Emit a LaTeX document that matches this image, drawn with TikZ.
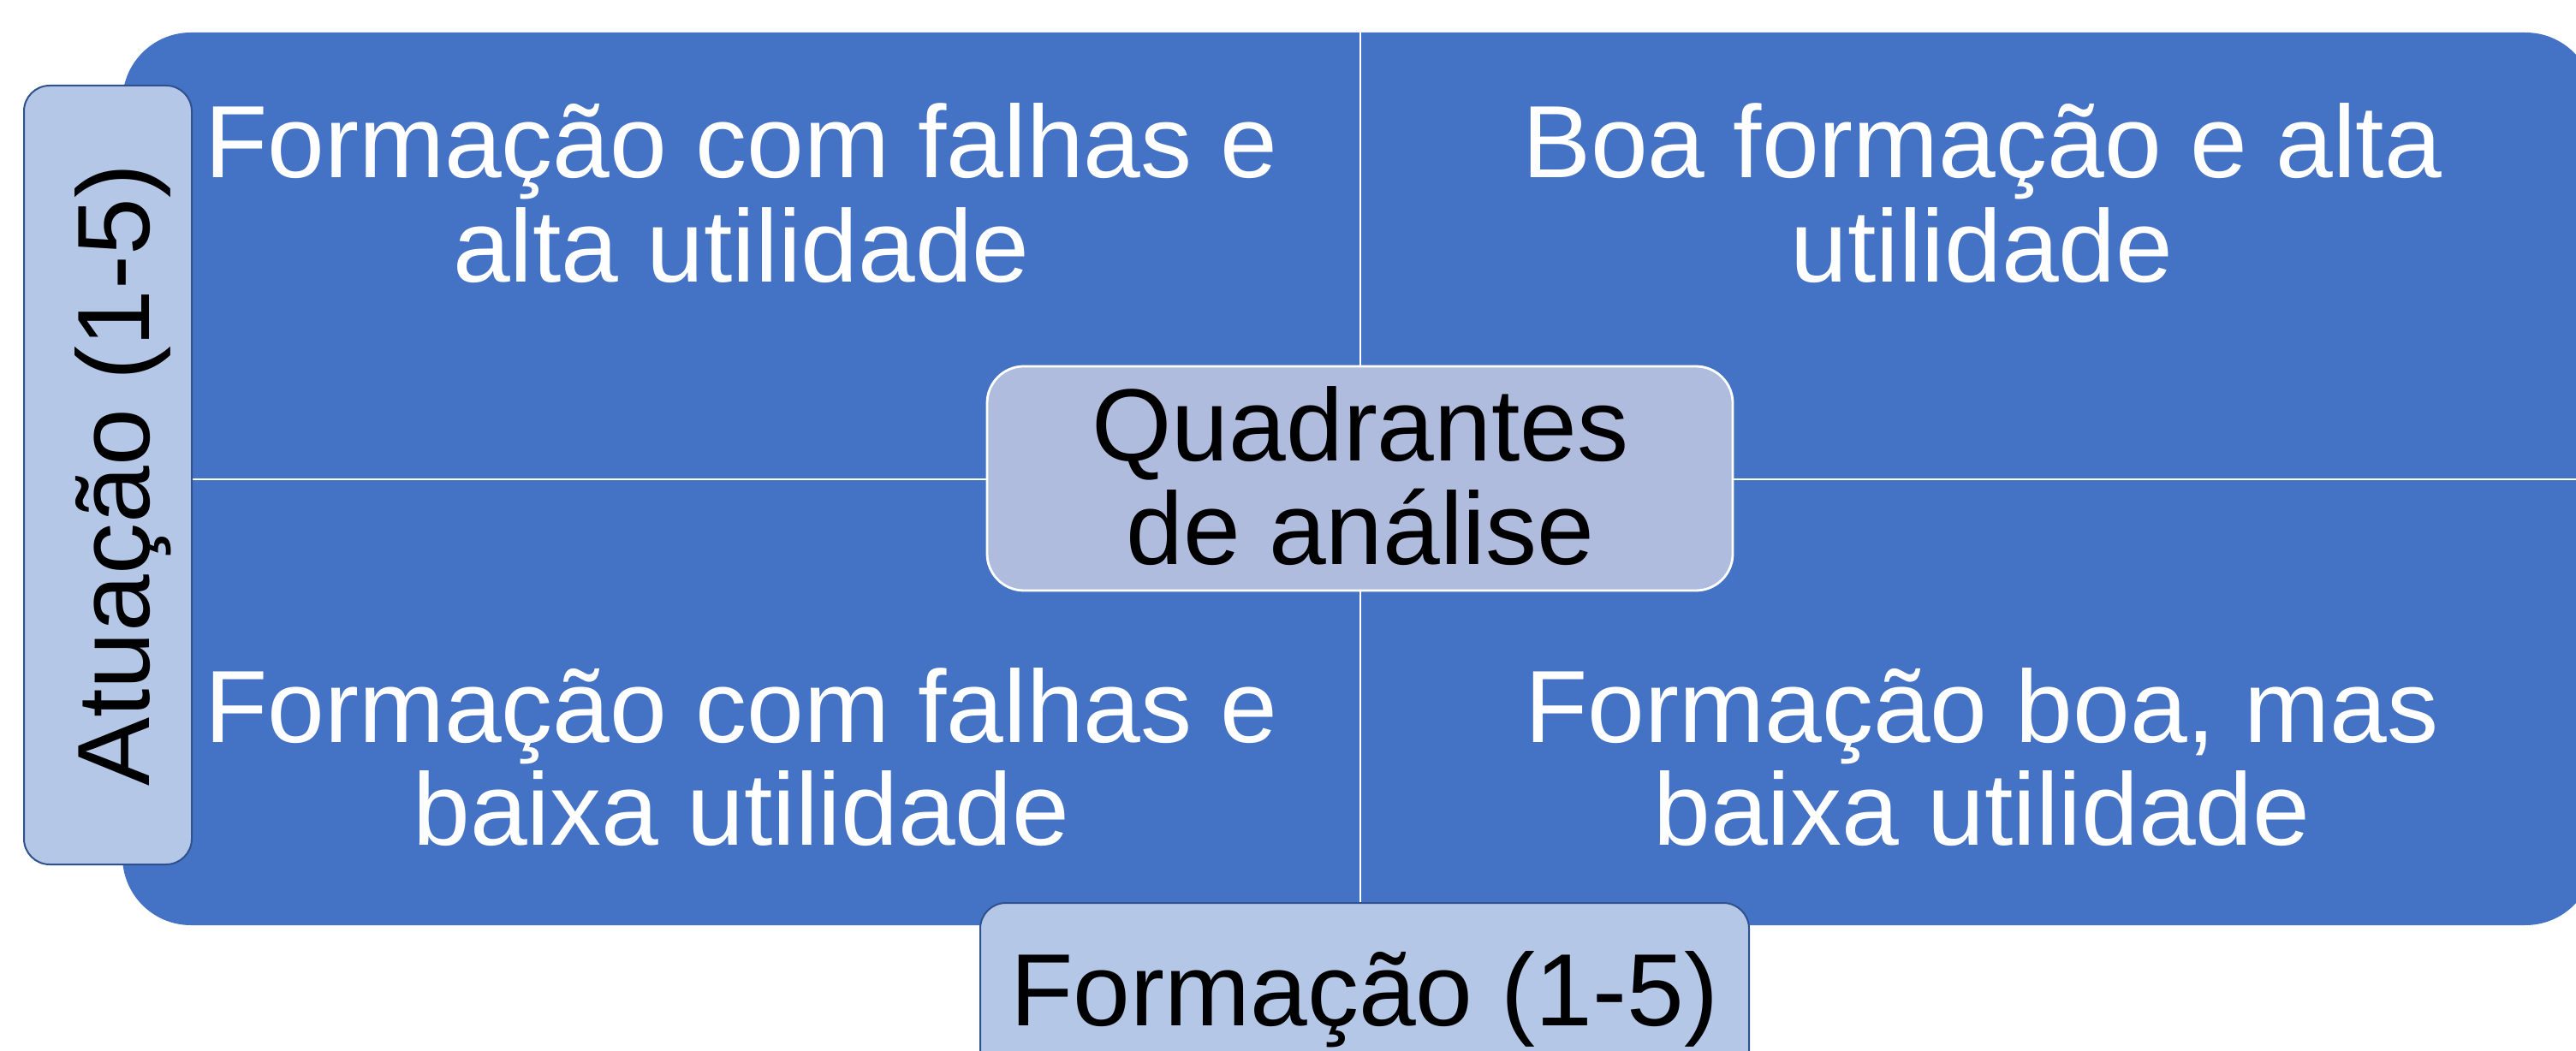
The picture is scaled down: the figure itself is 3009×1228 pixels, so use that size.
\documentclass[tikz,border=0pt]{standalone}
\usepackage{fontspec}
\setmainfont{Liberation Sans}
\definecolor{mainblue}{HTML}{4472C4}
\definecolor{axisfill}{HTML}{B4C7E7}
\definecolor{axisline}{HTML}{2F528F}
\definecolor{centerfill}{RGB}{176,188,222}
\begin{document}
\begin{tikzpicture}[x=0.25pt,y=-0.25pt,
  qtext/.style={text=white,font=\fontsize{30}{30.5}\selectfont,inner sep=0pt,anchor=base},
  btext/.style={text=black,font=\fontsize{30}{30.5}\selectfont,inner sep=0pt,anchor=base},
  axisbox/.style={draw=axisline,line width=0.5pt,fill=axisfill,rounded corners=7.5pt,inner sep=0pt},
  centerbox/.style={draw=white,line width=0.7pt,fill=centerfill,rounded corners=10.75pt,inner sep=0pt},
  divider/.style={draw=white,line width=0.5pt}]
\clip (0,0) rectangle (3009,1228);
\fill[mainblue,rounded corners=20pt] (143,38) rectangle (3030,1081);
\coordinate (vt) at (1589,38);
\coordinate (vb) at (1589,1081);
\coordinate (hl) at (143,560);
\coordinate (hr) at (3030,560);
\draw[divider] (vt) -- (vb);
\draw[divider] (hl) -- (hr);
% quadrant texts
\node[qtext] (tla) at (866,208) {Formação com falhas e};
\node[qtext] (tlb) at (866,330) {alta utilidade};
\node[qtext] (tra) at (2315,208) {Boa formação e alta};
\node[qtext] (trb) at (2315,330) {utilidade};
\node[qtext] (bla) at (866,868) {Formação com falhas e};
\node[qtext] (blb) at (866,988) {baixa utilidade};
\node[qtext] (bra) at (2315,868) {Formação boa, mas};
\node[qtext] (brb) at (2315,988) {baixa utilidade};
% center box
\node[centerbox,minimum width=217.75pt,minimum height=65.5pt] (cbox) at (1588.5,559) {};
\node[btext] (ca) at (1589,539) {Quadrantes};
\node[btext] (cb) at (1589,660) {de análise};
% left axis box
\node[axisbox,minimum width=49pt,minimum height=227.5pt] (lbox) at (126,555) {};
\node[btext,rotate=90] (ltext) at (174,555) {Atuação (1-5)};
% bottom axis box
\node[axisbox,minimum width=224.5pt,minimum height=61.25pt] (bbox) at (1594,1177.5) {};
\node[btext] (btxt) at (1594,1198) {Formação (1-5)};
\end{tikzpicture}
\end{document}
